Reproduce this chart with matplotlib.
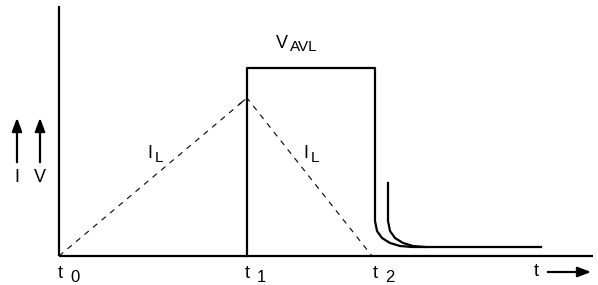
import matplotlib
matplotlib.use("Agg")
import matplotlib.pyplot as plt

plt.rcParams['font.family'] = ['Liberation Sans', 'DejaVu Sans']

# time marks (x) and levels (y), in drawing units
t_marks = [59, 247, 372]
t_labels = ['0', '1', '2']
t_label_x = [60, 247, 375]
il_x = [59, 247, 372]
il_y = [0, 158, 0]

v_x = [247, 247, 375, 375, 377, 382, 390, 400, 412, 541]
v_y = [0, 188, 188, 35, 25, 18, 13, 10, 9, 9]
v2_x = [388, 388, 390, 395, 403, 413, 425]
v2_y = [73, 35, 25, 18, 13, 10, 9]

fig = plt.figure(figsize=(5.98, 2.85), dpi=100)
ax = fig.add_axes([0, 0, 1, 1])
ax.set_xlim(0, 598)
ax.set_ylim(-29, 256)
ax.axis('off')

lw = 1.6
# axes
ax.plot([59, 59], [0, 250], color='black', lw=lw, solid_capstyle='butt')
ax.plot([59, 593], [0, 0], color='black', lw=lw, solid_capstyle='butt')

# inductor current (dashed)
ax.plot(il_x, il_y, color='black', lw=0.8, ls=(0, (5, 5)))
ax.annotate('', xy=(il_x[1], il_y[1]), xytext=(il_x[1] - 10, il_y[1] - 8),
            arrowprops=dict(arrowstyle='-', color='black', lw=0.8))

# voltage pulse
ax.plot(v_x, v_y, color='black', lw=lw)
ax.plot(v2_x, v2_y, color='black', lw=lw)

fs = 13
for x, lab in zip(t_label_x, t_labels):
    ax.text(x, -17, 't', fontsize=fs, ha='center', va='center')
    ax.text(x + 10, -22, lab, fontsize=fs - 1, ha='left', va='center')

ax.text(536, -16, 't', fontsize=fs, ha='center', va='center')
ax.annotate('', xy=(594, -16), xytext=(545, -16),
            arrowprops=dict(arrowstyle='-|>,head_length=0.8,head_width=0.3',
                            color='black', lw=lw))

ax.text(150, 103, 'I', fontsize=fs, ha='center', va='center')
ax.text(155, 98, 'L', fontsize=fs - 2, ha='left', va='center')
ax.text(306, 103, 'I', fontsize=fs, ha='center', va='center')
ax.text(311, 98, 'L', fontsize=fs - 2, ha='left', va='center')
ax.text(282, 213, 'V', fontsize=fs, ha='center', va='center')
ax.text(290, 209, 'AVL', fontsize=fs - 2, ha='left', va='center')

# I and V arrows
for x, lab in [(17, 'I'), (40, 'V')]:
    ax.annotate('', xy=(x, 141), xytext=(x, 91),
                arrowprops=dict(arrowstyle='-|>,head_length=0.8,head_width=0.3',
                                color='black', lw=lw))
    ax.text(x, 78, lab, fontsize=fs, ha='center', va='center')

fig.savefig('out.png', dpi=100)
